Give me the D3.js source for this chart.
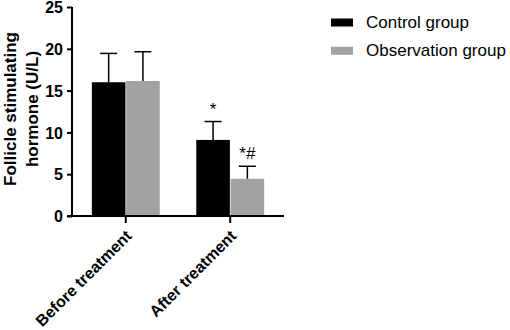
<!DOCTYPE html>
<html>
<head>
<meta charset="utf-8">
<script src="https://cdn.jsdelivr.net/npm/d3@7"></script>
<style>
  body { margin: 0; background: #fff; }
  text { font-family: Arial, "Liberation Sans", sans-serif; }
</style>
</head>
<body>
<script>
/* chart data */
var groups = ["Before treatment", "After treatment"];
var seriesNames = ["Control group", "Observation group"];
var controlMean = [16.0, 9.1];
var controlErr = [19.45, 11.3];
var observationMean = [16.15, 4.45];
var observationErr = [19.65, 5.95];
var marks = [["", ""], ["*", "*#"]];
var yTicks = [0, 5, 10, 15, 20, 25];

var colors = ["#000000", "#a2a2a5"];
var width = 510, height = 330;
var x0 = 72, x1 = 284; // axis extent
var yTop = 7, yBottom = 216;

var svg = d3.select("body").append("svg")
    .attr("width", width)
    .attr("height", height);

var xScale = d3.scaleBand()
    .domain(groups)
    .range([x0, x1])
    .paddingInner(0.35)
    .paddingOuter(0.19);

var yScale = d3.scaleLinear()
    .domain([0, 25])
    .range([yBottom, yTop]);

var sub = d3.scaleBand()
    .domain([0, 1])
    .range([0, xScale.bandwidth()])
    .paddingInner(0.02);

var rows = [];
groups.forEach(function(g, i) {
    rows.push({g: g, s: 0, v: controlMean[i], e: controlErr[i], m: marks[i][0]});
    rows.push({g: g, s: 1, v: observationMean[i], e: observationErr[i], m: marks[i][1]});
});

function cx(d) { return xScale(d.g) + sub(d.s) + sub.bandwidth() / 2; }

/* error bars (drawn first, bars overlay the lower part) */
var eb = svg.append("g");
eb.selectAll("line.stem").data(rows).enter().append("line")
    .attr("x1", cx).attr("x2", cx)
    .attr("y1", function(d) { return yScale(d.v); })
    .attr("y2", function(d) { return yScale(d.e); })
    .attr("stroke", "#000").attr("stroke-width", 1.5);
eb.selectAll("line.cap").data(rows).enter().append("line")
    .attr("x1", function(d) { return cx(d) - 8.5; })
    .attr("x2", function(d) { return cx(d) + 8.5; })
    .attr("y1", function(d) { return yScale(d.e); })
    .attr("y2", function(d) { return yScale(d.e); })
    .attr("stroke", "#000").attr("stroke-width", 1.5);

/* bars */
svg.append("g").selectAll("rect").data(rows).enter().append("rect")
    .attr("x", function(d) { return xScale(d.g) + sub(d.s); })
    .attr("width", sub.bandwidth())
    .attr("y", function(d) { return yScale(d.v); })
    .attr("height", function(d) { return yScale(0) - yScale(d.v); })
    .attr("fill", function(d) { return colors[d.s]; });

/* significance marks */
svg.append("g").selectAll("text").data(rows.filter(function(d) { return d.m; })).enter().append("text")
    .attr("x", cx)
    .attr("y", function(d) { return yScale(d.e) - 7; })
    .attr("text-anchor", "middle")
    .attr("font-size", 17)
    .text(function(d) { return d.m; });

/* y axis */
var yAxis = d3.axisLeft(yScale).tickValues(yTicks).tickSize(5).tickPadding(4);
var gy = svg.append("g")
    .attr("transform", "translate(" + x0 + ",0)")
    .call(yAxis);
gy.select(".domain").attr("stroke-width", 2).attr("d", "M0," + yTop + "V" + yBottom);
gy.selectAll(".tick line").attr("stroke-width", 2);
gy.selectAll(".tick text")
    .attr("font-size", 16).attr("font-weight", "bold")
    .attr("font-family", "Arial, 'Liberation Sans', sans-serif")
    .attr("dy", "0.36em")
    .attr("fill", "#000");

/* x axis */
var xAxis = d3.axisBottom(xScale).tickSize(7).tickFormat("");
var gx = svg.append("g")
    .attr("transform", "translate(0," + yBottom + ")")
    .call(xAxis);
gx.select(".domain").attr("stroke-width", 2).attr("d", "M" + (x0 - 5) + ",0H" + x1);
gx.selectAll(".tick line").attr("stroke-width", 2);

/* rotated category labels ending at the tick */
svg.append("g").selectAll("text").data(groups).enter().append("text")
    .attr("transform", function(d) {
        return "translate(" + (xScale(d) + xScale.bandwidth() / 2 + 7) + "," + (yBottom + 21) + ") rotate(-45)";
    })
    .attr("text-anchor", "end")
    .attr("font-size", 16)
    .attr("font-weight", "bold")
    .text(function(d) { return d; });

/* y axis title */
var yt = svg.append("text")
    .attr("transform", "translate(15.5,109) rotate(-90)")
    .attr("text-anchor", "middle")
    .attr("font-size", 17)
    .attr("font-weight", "bold");
yt.append("tspan").attr("x", 0).attr("dy", 0).text("Follicle stimulating");
yt.append("tspan").attr("x", 0).attr("dy", 22).text("hormone (U/L)");

/* legend */
var legend = svg.append("g").selectAll("g").data(seriesNames).enter().append("g")
    .attr("transform", function(d, i) { return "translate(331," + (18.5 + i * 28.3) + ")"; });
legend.append("rect")
    .attr("width", 22).attr("height", 8)
    .attr("fill", function(d, i) { return colors[i]; });
legend.append("text")
    .attr("x", 35).attr("y", 9)
    .attr("font-size", 17)
    .text(function(d) { return d; });
</script>
</body>
</html>
